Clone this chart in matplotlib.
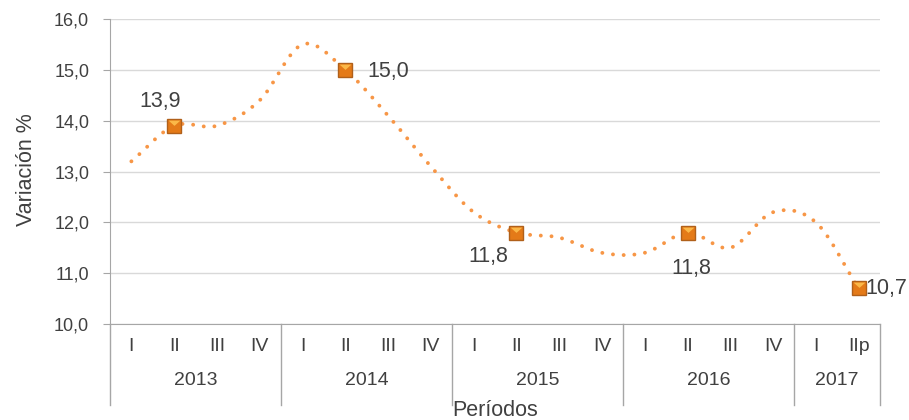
import numpy as np
import matplotlib
matplotlib.use('Agg')
import matplotlib.pyplot as plt

# datos: variación % por trimestre
years = ['2013', '2014', '2015', '2016', '2017']
quarters = ['I', 'II', 'III', 'IV', 'I', 'II', 'III', 'IV', 'I', 'II', 'III', 'IV',
            'I', 'II', 'III', 'IV', 'I', 'IIp']
quarters_per_year = [4, 4, 4, 4, 2]
values = [13.2, 13.9, 13.9, 14.4, 15.5, 15.0, 14.1, 13.1, 12.2, 11.8, 11.7, 11.4,
          11.4, 11.8, 11.5, 12.2, 12.0, 10.7]
marked = [1, 5, 9, 13, 17]
marked_labels = ['13,9', '15,0', '11,8', '11,8', '10,7']

plt.rcParams['font.family'] = ['Liberation Sans', 'DejaVu Sans']
txt = '#404040'


def smooth(xs, ys, n=30):
    # curva suavizada tipo Catmull-Rom (como la línea suavizada de Excel)
    xs = np.asarray(xs, float)
    ys = np.asarray(ys, float)
    px = np.concatenate([[2 * xs[0] - xs[1]], xs, [2 * xs[-1] - xs[-2]]])
    py = np.concatenate([[2 * ys[0] - ys[1]], ys, [2 * ys[-1] - ys[-2]]])
    ox, oy = [], []
    for i in range(1, len(px) - 2):
        t = np.linspace(0, 1, n, endpoint=False)
        for p, out in ((px, ox), (py, oy)):
            p0, p1, p2, p3 = p[i - 1], p[i], p[i + 1], p[i + 2]
            out.extend(0.5 * ((2 * p1) + (-p0 + p2) * t +
                              (2 * p0 - 5 * p1 + 4 * p2 - p3) * t ** 2 +
                              (-p0 + 3 * p1 - 3 * p2 + p3) * t ** 3))
    ox.append(xs[-1])
    oy.append(ys[-1])
    return np.array(ox), np.array(oy)


fig = plt.figure(figsize=(9.09, 4.2), dpi=100)
ax = fig.add_axes([110 / 909, 1 - 324 / 420, 770 / 909, 305 / 420])

x = np.arange(len(values))
sx, sy = smooth(x, values)
ax.plot(sx, sy, color='#F79646', lw=2.8, linestyle=(0, (0.01, 2.75)),
        dash_capstyle='round', zorder=3)

mx = [x[i] for i in marked]
my = [values[i] for i in marked]
# marcador cuadrado con "solapa" más clara arriba
flap = [(-1, 1), (1, 1), (0, 0.1), (-1, 1)]
ax.plot(mx, my, 's', ms=10, mfc='#E47A18', mec='#B0601A', mew=1.0, zorder=4)
ax.plot(mx, my, marker=flap, ls='none', ms=8.5, mfc='#FBB848', mec='none', zorder=5)

offsets = [(-14, 24, 'center'), (22, -2, 'left'), (-28, -24, 'center'),
           (4, -36, 'center'), (7, 0, 'left')]
for xi, yi, lab, (dx, dy, ha) in zip(mx, my, marked_labels, offsets):
    ax.annotate(lab, (xi, yi), xytext=(dx, dy), textcoords='offset pixels',
                ha=ha, va='center', fontsize=15.5, color=txt, zorder=6)

ax.set_xlim(-0.5, len(values) - 0.5)
ax.set_ylim(10, 16)
yt = np.arange(10, 16.1, 1)
ax.set_yticks(yt)
ax.set_yticklabels([f'{v:.1f}'.replace('.', ',') for v in yt], fontsize=13, color=txt)
ax.tick_params(axis='y', length=5, color='#A6A6A6', pad=10)
ax.set_xticks([])
ax.grid(axis='y', color='#D9D9D9', lw=1)
ax.set_axisbelow(True)
for s in ['top', 'right']:
    ax.spines[s].set_visible(False)
for s in ['left', 'bottom']:
    ax.spines[s].set_color('#A6A6A6')

# eje x de dos niveles
tr = ax.get_xaxis_transform()
for xi, q in zip(x, quarters):
    ax.text(xi, -0.075, q, transform=tr, ha='center', va='center',
            fontsize=14, color=txt)
start = 0
bounds = [-0.5]
for y, n in zip(years, quarters_per_year):
    ax.text(start + (n - 1) / 2, -0.184, y, transform=tr, ha='center', va='center',
            fontsize=14, color=txt)
    start += n
    bounds.append(start - 0.5)
for b in bounds:
    ax.plot([b, b], [0, -0.266], transform=tr, color='#A6A6A6', lw=1, clip_on=False)

fig.text(27 / 909, 1 - 170 / 420, 'Variación %', rotation=90, ha='center', va='center',
         fontsize=15.5, color=txt)
fig.text(495 / 909, 1 - 410 / 420, 'Períodos', ha='center', va='center',
         fontsize=15.5, color=txt)

fig.savefig('out.png', dpi=100)
